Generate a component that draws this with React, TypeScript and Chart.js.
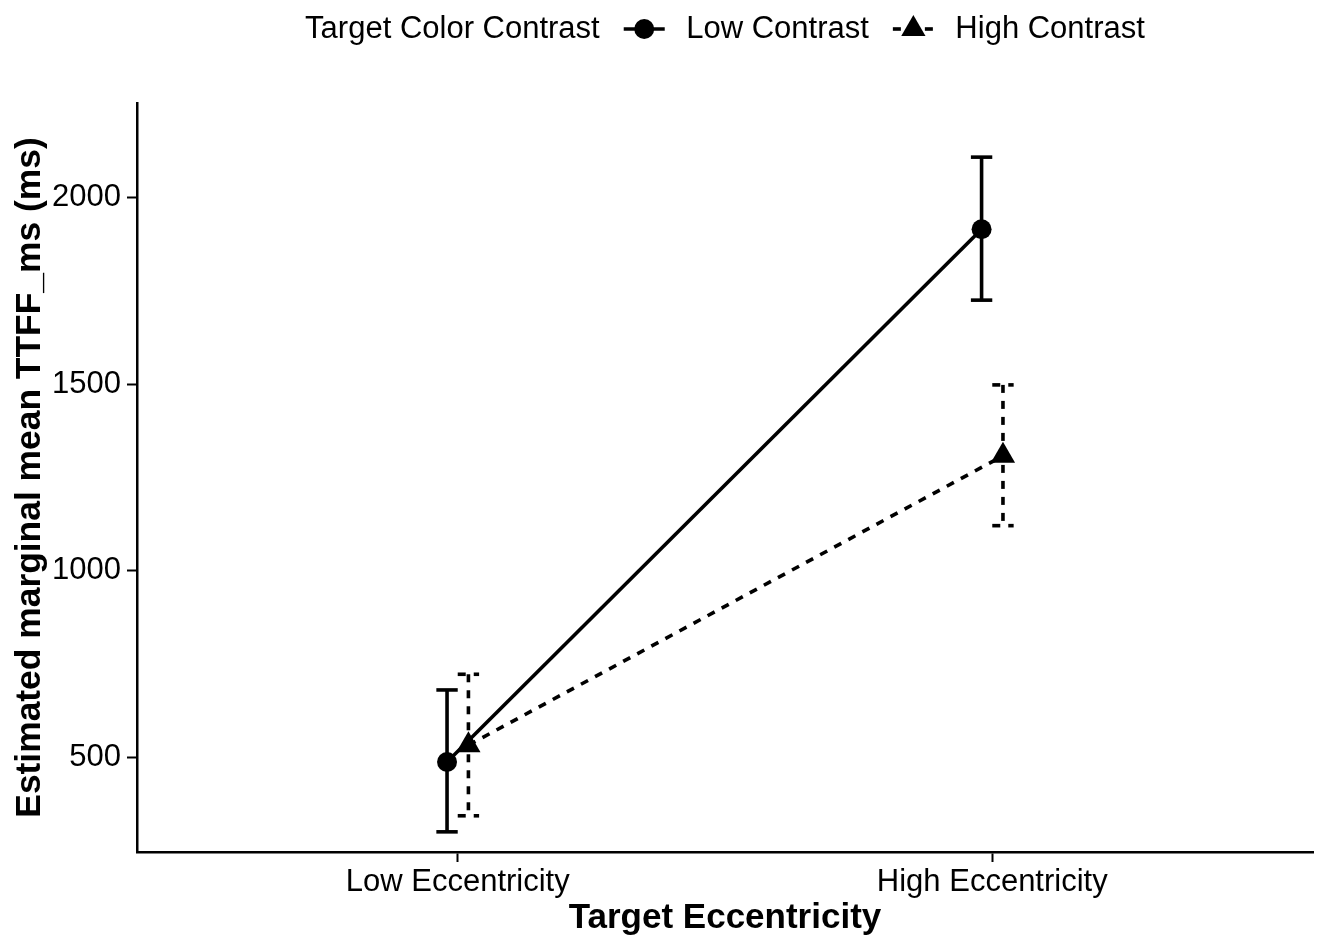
import { useEffect, useRef } from 'react';
import { Chart, registerables } from 'chart.js';

Chart.register(...registerables);

// Categories on the x axis and legend entries
const categories = ['Low Eccentricity', 'High Eccentricity'];
const seriesNames = ['Low Contrast', 'High Contrast'];

// Estimated marginal means with their confidence limits (ms)
const lowContrastMean = [488, 1915];
const lowContrastLower = [301, 1725];
const lowContrastUpper = [681, 2108];
const highContrastMean = [533, 1308];
const highContrastLower = [344, 1121];
const highContrastUpper = [723, 1498];

const yTicks = [500, 1000, 1500, 2000];
const legendTitle = 'Target Color Contrast';
const xTitle = 'Target Eccentricity';
const yTitle = 'Estimated marginal mean TTFF_ms (ms)';

const FONT = '"Liberation Sans", Arial, Helvetica, sans-serif';
const DODGE = 0.02; // horizontal offset of each series around its category
const CAP = 0.04; // error-bar cap width in x units
const DASH = [8, 8];
const LINE_W = 3.6;

const errorBarPlugin = {
  id: 'errorBars',
  beforeDatasetsDraw(chart: any) {
    const { ctx, scales } = chart;
    const x = scales.x;
    const y = scales.y;
    chart.data.datasets.forEach((ds: any) => {
      ctx.save();
      ctx.strokeStyle = '#000';
      ctx.lineWidth = LINE_W;
      ctx.lineCap = 'butt';
      ctx.setLineDash(ds.borderDash || []);
      ds.data.forEach((p: any, i: number) => {
        const px = x.getPixelForValue(p.x);
        const half = Math.abs(x.getPixelForValue(p.x + CAP / 2) - px);
        const yl = y.getPixelForValue(ds.lower[i]);
        const yu = y.getPixelForValue(ds.upper[i]);
        ctx.beginPath();
        ctx.moveTo(px - half, yu);
        ctx.lineTo(px + half, yu);
        ctx.stroke();
        ctx.beginPath();
        ctx.moveTo(px, yu);
        ctx.lineTo(px, yl);
        ctx.stroke();
        ctx.beginPath();
        ctx.moveTo(px - half, yl);
        ctx.lineTo(px + half, yl);
        ctx.stroke();
      });
      ctx.restore();
    });
  },
};

const topLegendPlugin = {
  id: 'topLegend',
  afterDraw(chart: any) {
    const { ctx, chartArea } = chart;
    const cy = 29;
    const keyLen = 41;
    ctx.save();
    ctx.font = `31px ${FONT}`;
    ctx.fillStyle = '#000';
    ctx.textBaseline = 'middle';
    ctx.textAlign = 'left';
    const wTitle = ctx.measureText(legendTitle).width;
    const wLabels = seriesNames.map((s) => ctx.measureText(s).width);
    const gapAfterText = 24;
    const gapAfterKey = 21.5;
    const total =
      wTitle + seriesNames.length * (gapAfterText + keyLen + gapAfterKey) + wLabels.reduce((a, b) => a + b, 0);
    let cx = (chartArea.left + chartArea.right) / 2 - total / 2;
    ctx.fillText(legendTitle, cx, cy);
    cx += wTitle;
    chart.data.datasets.forEach((ds: any, i: number) => {
      cx += gapAfterText;
      ctx.save();
      ctx.strokeStyle = '#000';
      ctx.lineWidth = LINE_W;
      ctx.setLineDash(ds.borderDash || []);
      ctx.beginPath();
      ctx.moveTo(cx, cy);
      ctx.lineTo(cx + keyLen, cy);
      ctx.stroke();
      ctx.restore();
      const mx = cx + keyLen / 2;
      ctx.beginPath();
      if (ds.pointStyle === 'triangle') {
        const r = 14;
        ctx.moveTo(mx, cy - r);
        ctx.lineTo(mx + r * Math.sin(Math.PI / 3), cy + r / 2);
        ctx.lineTo(mx - r * Math.sin(Math.PI / 3), cy + r / 2);
        ctx.closePath();
      } else {
        ctx.arc(mx, cy, 10, 0, Math.PI * 2);
      }
      ctx.fill();
      cx += keyLen + gapAfterKey;
      ctx.fillText(seriesNames[i], cx, cy);
      cx += wLabels[i];
    });
    ctx.restore();
  },
};

export default function App() {
  const canvasRef = useRef<HTMLCanvasElement | null>(null);

  useEffect(() => {
    document.body.style.margin = '0';
    const canvas = canvasRef.current;
    if (!canvas) return;

    const makeData = (means: number[], offset: number) =>
      means.map((v, i) => ({ x: i + 1 + offset, y: v }));

    const chart = new Chart(canvas, {
      type: 'line',
      data: {
        datasets: [
          {
            label: seriesNames[0],
            data: makeData(lowContrastMean, -DODGE),
            lower: lowContrastLower,
            upper: lowContrastUpper,
            borderColor: '#000',
            backgroundColor: '#000',
            borderWidth: LINE_W,
            pointStyle: 'circle',
            pointRadius: 10,
            pointBorderWidth: 0,
            pointBackgroundColor: '#000',
            tension: 0,
          } as any,
          {
            label: seriesNames[1],
            data: makeData(highContrastMean, DODGE),
            lower: highContrastLower,
            upper: highContrastUpper,
            borderColor: '#000',
            backgroundColor: '#000',
            borderWidth: LINE_W,
            borderDash: DASH,
            pointStyle: 'triangle',
            pointRadius: 14,
            pointBorderWidth: 0,
            pointBackgroundColor: '#000',
            tension: 0,
          } as any,
        ],
      },
      options: {
        responsive: false,
        animation: false,
        events: [],
        layout: { padding: { top: 103, right: 14, left: 0, bottom: 0 } },
        plugins: {
          legend: { display: false },
          tooltip: { enabled: false },
        },
        scales: {
          x: {
            type: 'linear',
            min: 0.4,
            max: 2.6,
            afterBuildTicks: (scale: any) => {
              scale.ticks = categories.map((_, i) => ({ value: i + 1 }));
            },
            afterFit: (scale: any) => {
              scale.height = 97;
            },
            ticks: {
              autoSkip: false,
              maxRotation: 0,
              padding: 2,
              color: '#000',
              font: { family: FONT, size: 31 },
              callback: (v: any) => categories[Math.round(Number(v)) - 1] ?? '',
            },
            grid: {
              drawOnChartArea: false,
              drawTicks: true,
              tickLength: 10,
              tickWidth: 2,
              tickColor: '#000',
            },
            border: { display: true, color: '#000', width: 2.5 },
            title: {
              display: true,
              text: xTitle,
              color: '#000',
              font: { family: FONT, size: 35, weight: 'bold' },
              padding: { top: 0, bottom: 10 },
            },
          },
          y: {
            type: 'linear',
            min: 247,
            max: 2253,
            afterBuildTicks: (scale: any) => {
              scale.ticks = yTicks.map((v) => ({ value: v }));
            },
            afterFit: (scale: any) => {
              scale.width = 137;
            },
            ticks: {
              padding: 6,
              color: '#000',
              font: { family: FONT, size: 31 },
              callback: (v: any) => String(v),
            },
            grid: {
              drawOnChartArea: false,
              drawTicks: true,
              tickLength: 10,
              tickWidth: 2,
              tickColor: '#000',
            },
            border: { display: true, color: '#000', width: 2.5 },
            title: {
              display: true,
              text: yTitle,
              color: '#000',
              font: { family: FONT, size: 35.4, weight: 'bold' },
              padding: { top: 9, bottom: 0 },
            },
          },
        },
      },
      plugins: [errorBarPlugin, topLegendPlugin],
    } as any);

    return () => chart.destroy();
  }, []);

  return (
    <div style={{ width: 1327, height: 949 }}>
      <canvas ref={canvasRef} width={1327} height={949} style={{ display: 'block' }} />
    </div>
  );
}
